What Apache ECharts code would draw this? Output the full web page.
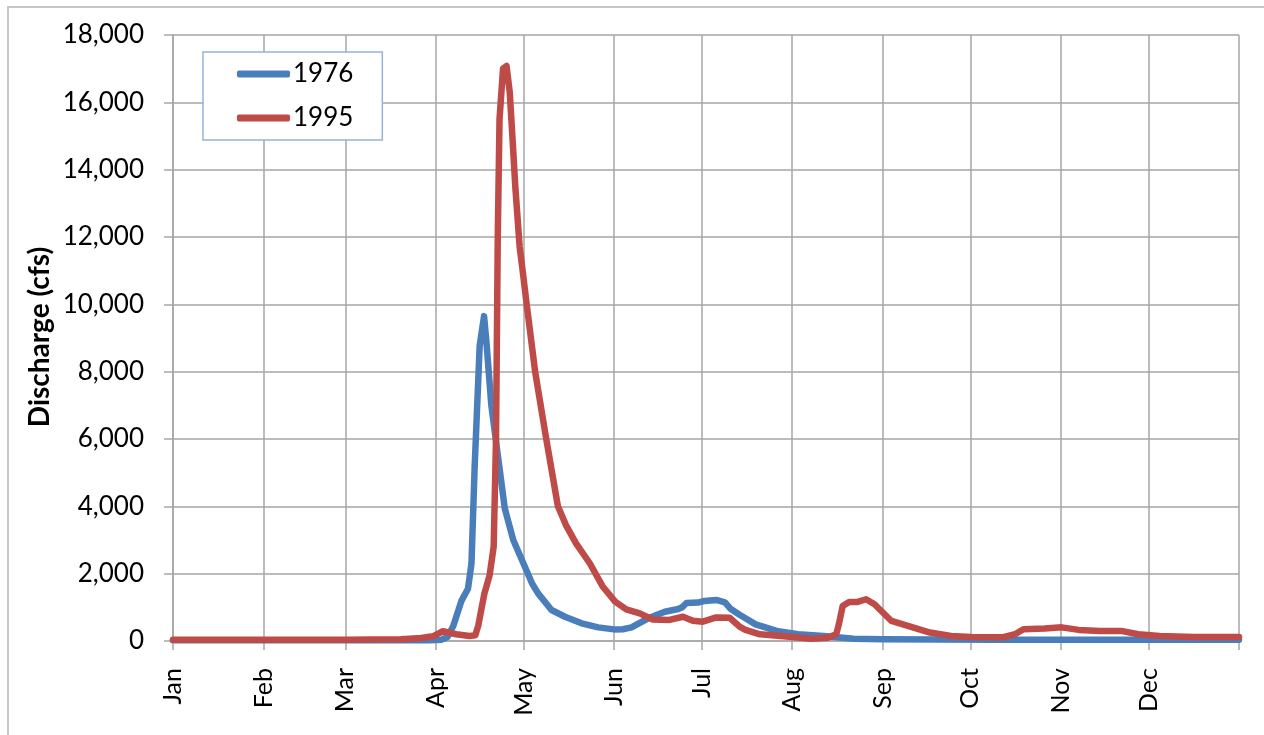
<!DOCTYPE html>
<html>
<head>
<meta charset="utf-8">
<script src="https://cdn.jsdelivr.net/npm/echarts@6/dist/echarts.min.js"></script>
<style>
html,body{margin:0;padding:0;background:#fff;}
#chart{width:1264px;height:735px;}
</style>
</head>
<body>
<div id="chart"></div>
<script>
// Month labels and their first day-of-year (0 = Jan 1)
const monthLabels = ['Jan','Feb','Mar','Apr','May','Jun','Jul','Aug','Sep','Oct','Nov','Dec'];
const monthStartDays = [0,31,59,90,120,151,181,212,243,273,304,334];
const yearEndDay = 365;

// Y axis ticks
const yMin = 0, yMax = 18000, yStep = 2000;

// 1976 discharge (cfs): day-of-year and value
const days1976 = [0,31,59,80,88,92,94,96,98.8,101,102.2,103.3,105,106.5,107.3,109,111.4,113.6,116.5,120,123,125,129.6,134.2,139.9,145.6,151,154,157,162.7,168.4,173,174.3,175.8,179.8,182,186,189,191,194,199.5,206.7,214,222.8,233,243,280,334,365];
const flow1976 = [20,20,20,20,25,40,120,450,1200,1550,2300,5200,8760,9650,8900,7000,5400,3940,3000,2300,1700,1415,920,720,525,405,345,350,405,675,870,950,1000,1130,1140,1190,1220,1150,950,780,495,300,200,150,70,50,40,40,40];

// 1995 discharge (cfs)
const days1995 = [0,59,78,85,89,92.4,97,101.5,103.5,104.5,105.5,106.6,108.4,109.8,110.6,111.2,111.8,113,114.2,115.3,116.2,117.2,118.7,120,121.1,124,127.8,131.8,134.5,138,142.7,147.2,151.4,155.2,159.8,164.3,170,174.6,178,181.4,186,190.6,194,196,201,208.2,218.4,224.2,227.1,228,229.3,231.5,234.4,237.3,240.2,246,251.9,259.2,266.4,273.3,283.9,288.3,291.2,298.5,304.3,310.1,317.4,324.7,330.5,337.8,349.4,365];
const flow1995 = [40,40,50,90,140,290,200,150,170,450,900,1400,1950,2800,6000,12000,15500,17000,17080,16300,15000,13500,11700,10800,10000,8000,6000,4000,3450,2900,2310,1610,1170,940,820,640,625,720,600,575,700,690,425,330,200,150,70,100,200,500,1040,1160,1160,1240,1090,595,445,250,150,120,110,200,350,370,405,330,300,300,200,150,120,120];

const seriesNames = ['1976','1995'];
const seriesColors = ['#4a7ebb','#be4b48'];

const FONT = 'Lato, "Open Sans", sans-serif';

// category axis with one entry per day so month gridlines fall on exact days
const dayCategories = [];
for (let i = 0; i <= yearEndDay; i++) {
  const k = monthStartDays.indexOf(i);
  dayCategories.push(k >= 0 ? monthLabels[k] : '');
}
const isMonthLine = (idx) => monthStartDays.indexOf(idx) >= 0 || idx === yearEndDay;
const pairs = (xs, ys) => xs.map((x, i) => [x, ys[i]]);

const chart = echarts.init(document.getElementById('chart'), null, {renderer: 'canvas'});
chart.setOption({
  animation: false,
  backgroundColor: '#fff',
  textStyle: {fontFamily: FONT},
  grid: {left: 173, right: 25, top: 35, bottom: 94, containLabel: false},
  legend: {
    data: seriesNames,
    orient: 'vertical',
    left: 203, top: 52,
    padding: [7, 29, 7, 34],
    itemGap: 14,
    itemWidth: 53, itemHeight: 7,
    icon: 'roundRect',
    backgroundColor: '#fff',
    borderColor: '#95b3d7',
    borderWidth: 1.5,
    borderRadius: 0,
    textStyle: {fontSize: 26, lineHeight: 30, color: '#000', fontFamily: FONT, padding: [0,0,0,-2]}
  },
  xAxis: [
    {
      type: 'category',
      boundaryGap: false,
      data: dayCategories,
      axisLine: {show: true, lineStyle: {color: '#a6a6a6', width: 1.5}},
      axisTick: {show: true, interval: isMonthLine, length: 9, lineStyle: {color: '#a6a6a6', width: 1.5}},
      splitLine: {show: true, interval: isMonthLine, lineStyle: {color: '#a6a6a6', width: 1.5}},
      axisLabel: {
        interval: (idx) => monthStartDays.indexOf(idx) >= 0,
        rotate: 90, margin: 27, fontSize: 25, color: '#000', fontFamily: FONT
      }
    },
    {
      type: 'value', min: 0, max: yearEndDay, show: false,
      splitLine: {show: false}
    }
  ],
  yAxis: {
    type: 'value', min: yMin, max: yMax, interval: yStep,
    axisLine: {show: true, lineStyle: {color: '#a6a6a6', width: 1.5}},
    axisTick: {show: true, length: 9, lineStyle: {color: '#a6a6a6', width: 1.5}},
    splitLine: {show: true, lineStyle: {color: '#a6a6a6', width: 1.5}},
    axisLabel: {
      margin: 29, fontSize: 26, color: '#000', fontFamily: FONT,
      formatter: (v) => v.toLocaleString('en-US')
    }
  },
  series: [
    {
      name: seriesNames[0], type: 'line', xAxisIndex: 1,
      data: pairs(days1976, flow1976),
      showSymbol: false, symbol: 'none',
      color: seriesColors[0],
      lineStyle: {width: 6.5, color: seriesColors[0], cap: 'round', join: 'round'}
    },
    {
      name: seriesNames[1], type: 'line', xAxisIndex: 1,
      data: pairs(days1995, flow1995),
      showSymbol: false, symbol: 'none',
      color: seriesColors[1],
      lineStyle: {width: 6.5, color: seriesColors[1], cap: 'round', join: 'round'}
    }
  ],
  graphic: [
    {
      type: 'rect', silent: true, z: -1,
      shape: {x: 8, y: 7, width: 1400, height: 900},
      style: {fill: 'none', stroke: '#c6c6c6', lineWidth: 2}
    },
    {
      type: 'text', x: 40, y: 337, rotation: Math.PI / 2,
      style: {
        text: 'Discharge (cfs)', fontSize: 28, fontWeight: 'bold', fontFamily: FONT,
        fill: '#000', align: 'center', verticalAlign: 'middle'
      }
    }
  ]
});
</script>
</body>
</html>
